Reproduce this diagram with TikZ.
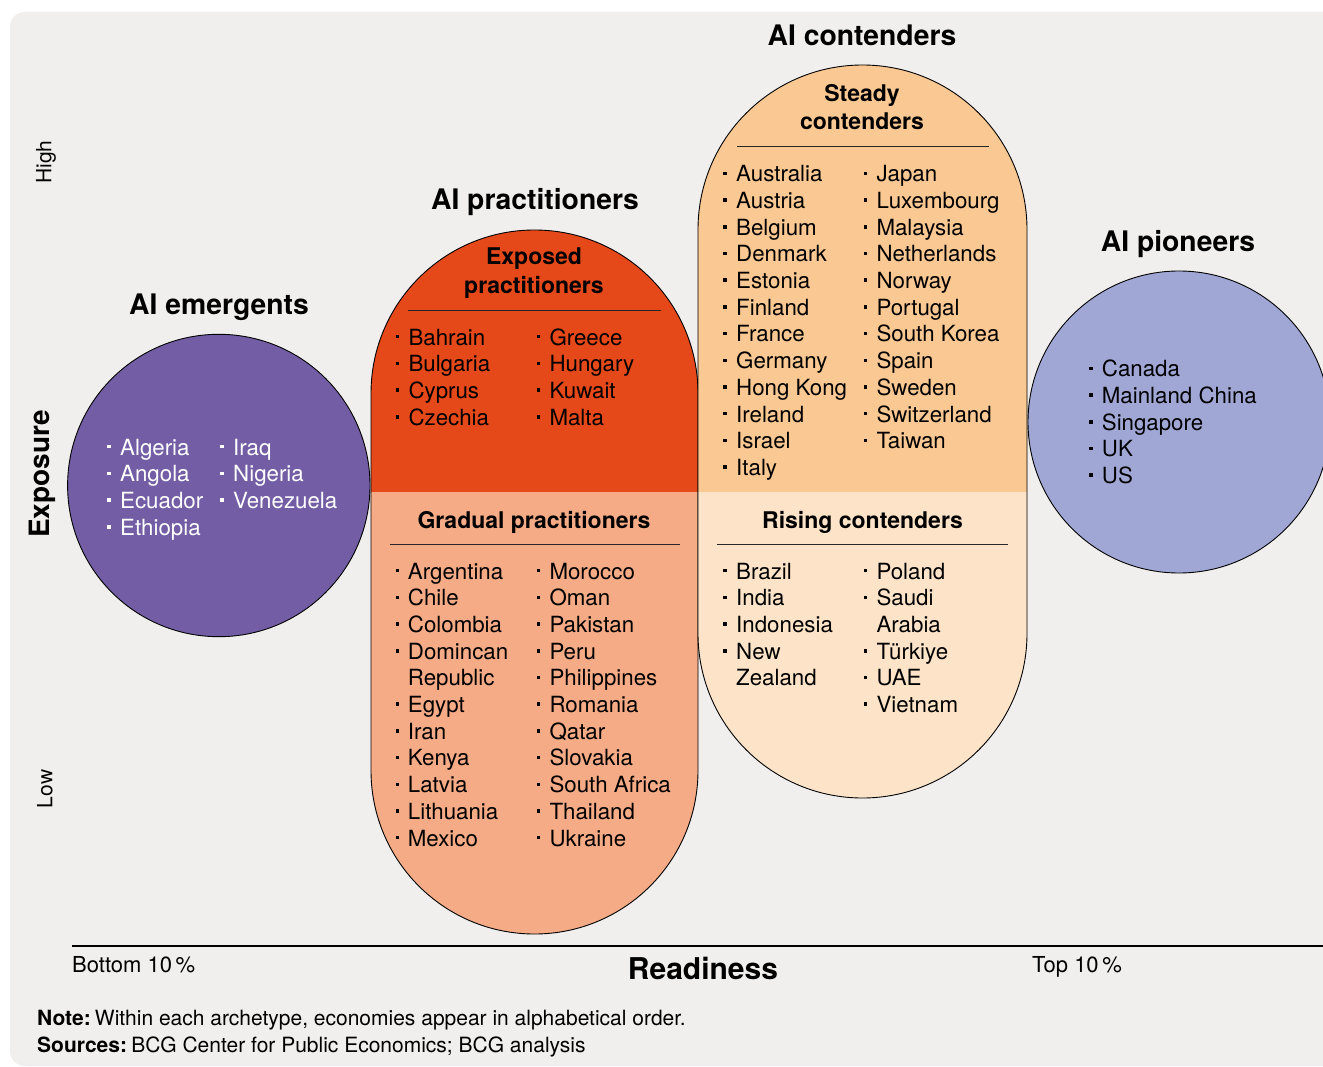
\documentclass[tikz,border=0pt]{standalone}
\usepackage{fontspec}
\setmainfont{TeX Gyre Heros}
\definecolor{bgc}{HTML}{F0EFED}
\definecolor{emerg}{HTML}{735EA5}
\definecolor{expo}{HTML}{E5491A}
\definecolor{grad}{HTML}{F5AB86}
\definecolor{stead}{HTML}{FAC892}
\definecolor{rise}{HTML}{FDE4C8}
\definecolor{pion}{HTML}{A0A7D5}
\tikzset{
 ctry/.style={anchor=base west, inner sep=0pt, font=\fontsize{22.3}{24}\selectfont},
 subt/.style={anchor=base, inner sep=0pt, font=\fontsize{23}{25}\selectfont\bfseries},
 ttl/.style={anchor=base, inner sep=0pt, font=\fontsize{28.3}{30}\selectfont\bfseries},
 axlab/.style={anchor=base west, inner sep=0pt, font=\fontsize{22}{24}\selectfont},
 foot/.style={anchor=base west, inner sep=0pt, font=\fontsize{21}{23}\selectfont},
 outline/.style={draw=black, line width=0.9pt},
 sepline/.style={draw=black!85, line width=0.8pt},
}
\newcommand\clist[6]{%
 \foreach \b/\c [count=\i from 0] in {#6} {
   \ifnum\b=1 \fill[#5] (#2-1.75, #4+26.7*\i-10.05) rectangle ++(3.5,3.5); \fi
   \node[ctry, text=#5] (#1-\i) at (#3, #4+26.7*\i) {\c};
 }}
\begin{document}
\begin{tikzpicture}[x=1pt,y=-1pt]
\useasboundingbox (0,0) rectangle (1323,1067);
\fill[white] (0,0) rectangle (1323,1067);
\fill[bgc, rounded corners=15pt] (10,12) rectangle (1360,1066);
% practitioners pill
\fill[grad, rounded corners=163.5pt] (371,230) rectangle (698,934);
\begin{scope}
 \clip[rounded corners=163.5pt] (371,230) rectangle (698,934);
 \fill[expo] (360,220) rectangle (710,492);
\end{scope}
\draw[outline, rounded corners=163.5pt] (371,230) rectangle (698,934);
% contenders pill
\fill[rise, rounded corners=164.5pt] (698,65) rectangle (1027,798);
\begin{scope}
 \clip[rounded corners=164.5pt] (698,65) rectangle (1027,798);
 \fill[stead] (690,55) rectangle (1040,492);
\end{scope}
\draw[outline, rounded corners=164.5pt] (698,65) rectangle (1027,798);
% circles
\draw[outline, fill=emerg] (218.8,485.5) circle[radius=151.2];
\draw[outline, fill=pion] (1179,422) circle[radius=151];
% titles
\node[ttl] (tEm) at (219,315) {AI emergents};
\node[ttl] (tPr) at (535,210) {AI practitioners};
\node[ttl] (tCo) at (862,46) {AI contenders};
\node[ttl] (tPi) at (1178,252) {AI pioneers};
% subtitles
\node[subt] (sExA) at (534,265) {Exposed};
\node[subt] (sExB) at (534,293.3) {practitioners};
\coordinate (rExL) at (408,310); \coordinate (rExR) at (661,310);
\draw[sepline] (rExL) -- (rExR);
\node[subt] (sGr) at (534,528.3) {Gradual practitioners};
\coordinate (rGrL) at (390,544); \coordinate (rGrR) at (680,544);
\draw[sepline] (rGrL) -- (rGrR);
\node[subt] (sStA) at (862,101.7) {Steady};
\node[subt] (sStB) at (862,130) {contenders};
\coordinate (rStL) at (737,146); \coordinate (rStR) at (988.5,146);
\draw[sepline] (rStL) -- (rStR);
\node[subt] (sRi) at (862.5,528.3) {Rising contenders};
\coordinate (rRiL) at (717,544); \coordinate (rRiR) at (1007.5,544);
\draw[sepline] (rRiL) -- (rRiR);
% lists
\clist{em1}{109}{120}{455}{white}{1/Algeria,1/Angola,1/Ecuador,1/Ethiopia}
\clist{em2}{222}{233}{455}{white}{1/Iraq,1/Nigeria,1/Venezuela}
\clist{ex1}{397.7}{408.3}{345}{black}{1/Bahrain,1/Bulgaria,1/Cyprus,1/Czechia}
\clist{ex2}{538.3}{549.3}{345}{black}{1/Greece,1/Hungary,1/Kuwait,1/Malta}
\clist{gr1}{397.7}{407.7}{579}{black}{1/Argentina,1/Chile,1/Colombia,1/Domincan,0/Republic,1/Egypt,1/Iran,1/Kenya,1/Latvia,1/Lithuania,1/Mexico}
\clist{gr2}{538.3}{549.3}{579}{black}{1/Morocco,1/Oman,1/Pakistan,1/Peru,1/Philippines,1/Romania,1/Qatar,1/Slovakia,1/South Africa,1/Thailand,1/Ukraine}
\clist{st1}{725}{736}{181.7}{black}{1/Australia,1/Austria,1/Belgium,1/Denmark,1/Estonia,1/Finland,1/France,1/Germany,1/Hong Kong,1/Ireland,1/Israel,1/Italy}
\clist{st2}{865.7}{876.3}{181.7}{black}{1/Japan,1/Luxembourg,1/Malaysia,1/Netherlands,1/Norway,1/Portugal,1/South Korea,1/Spain,1/Sweden,1/Switzerland,1/Taiwan}
\clist{ri1}{725}{736}{579}{black}{1/Brazil,1/India,1/Indonesia,1/New,0/Zealand}
\clist{ri2}{865.7}{876.3}{579}{black}{1/Poland,1/Saudi,0/Arabia,1/Türkiye,1/UAE,1/Vietnam}
\clist{pi1}{1091}{1101.7}{376.7}{black}{1/Canada,1/Mainland China,1/Singapore,1/UK,1/US}
% axes
\node[rotate=90, inner sep=0pt, font=\fontsize{28}{30}\selectfont\bfseries] (expo) at (42,474) {Exposure};
\node[rotate=90, inner sep=0pt, font=\fontsize{21}{23}\selectfont] (high) at (46,162) {High};
\node[rotate=90, inner sep=0pt, font=\fontsize{21}{23}\selectfont] (low) at (45,789) {Low};
\coordinate (axL) at (72,946); \coordinate (axR) at (1323,946);
\draw[line width=1.1pt] (axL) -- (axR);
\node[axlab] (bot) at (72,972) {Bottom 10\,\%};
\node[axlab] (top) at (1032,972) {Top 10\,\%};
\node[inner sep=0pt, font=\fontsize{30}{32}\selectfont\bfseries] (ready) at (703,968) {Readiness};
% footer
\node[foot] (note) at (37,1025) {\textbf{Note:}\kern0.2em Within each archetype, economies appear in alphabetical order.};
\node[foot] (src) at (37,1052) {\textbf{Sources:}\kern0.2em BCG Center for Public Economics; BCG analysis};
\end{tikzpicture}
\end{document}
